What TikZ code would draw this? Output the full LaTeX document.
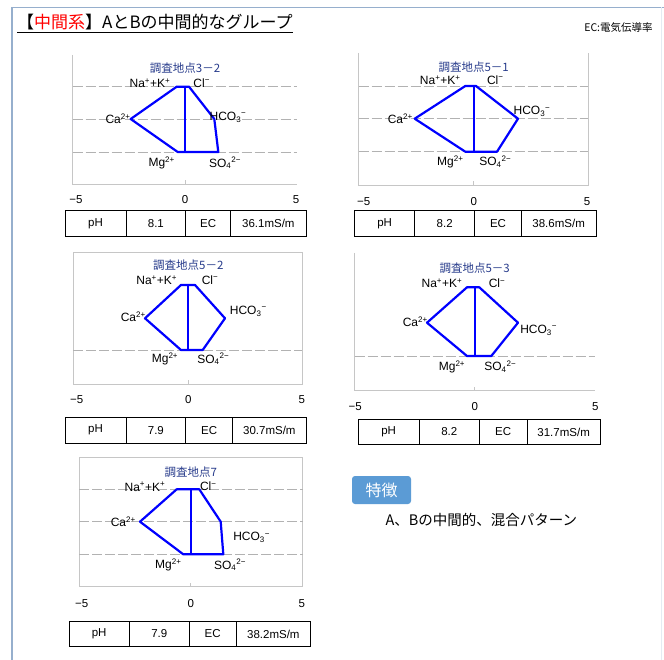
\documentclass[tikz,border=0pt]{standalone}
\usepackage{fontspec}
\setmainfont{Liberation Sans}
\newfontfamily\jp{Noto Sans CJK JP}
\usetikzlibrary{positioning}
\definecolor{framecol}{RGB}{150,175,205}
\definecolor{titlecol}{RGB}{40,60,140}
\definecolor{tagcol}{RGB}{91,155,213}

\begin{document}
\begin{tikzpicture}[x=1pt, y=-1pt,
    ion/.style={font=\fontsize{12}{12}\selectfont, inner sep=0pt},
    ttl/.style={font=\jp\fontsize{11.5}{11.5}\selectfont, text=titlecol, inner sep=0pt},
    num/.style={font=\fontsize{11.5}{11.5}\selectfont, inner sep=0pt},
    cell/.style={draw, line width=0.8pt, outer sep=0pt, inner sep=0pt, minimum height=25.5pt, font=\fontsize{11.5}{11.5}\selectfont},
    gridln/.style={gray!60, line width=0.7pt, dash pattern=on 10pt off 3pt},
    axisln/.style={gray!45, line width=0.8pt},
    stiff/.style={blue, line width=2.2pt, line join=round}]
    \useasboundingbox (0,0) rectangle (664,660);
    \fill[white] (0,0) rectangle (664,660);
    \draw[framecol, line width=1.2pt] (12,660) -- (12,7.5) -- (664,7.5);
    \draw[framecol!25] (661.5,7.5) -- (661.5,660);

    \node[font=\jp\fontsize{17}{17}\selectfont, inner sep=0pt, anchor=base west] (head) at (17,29) {【\textcolor{red}{中間系}】AとBの中間的なグループ};
    \draw[line width=1pt] ([yshift=-3.3pt]head.base west) -- ([yshift=-3.3pt]head.base east);
    \node[font=\jp\fontsize{10.5}{10.5}\selectfont, inner sep=0pt] (ecnote) at (618.5,28) {EC:電気伝導率};

    % 3-2
    \draw[axisln] (72.7,55) -- (72.7,184) -- (296.7,184);
    \foreach \y in {86.7,119,152} \draw[gridln] (72.7,\y) -- (296.7,\y);
    \draw[axisln] (185,184) -- (185,180);
    \coordinate (na1) at (176.7,86.7);
    \coordinate (cl1) at (189,86.7);
    \coordinate (hc1) at (214.3,119);
    \coordinate (so1) at (218.3,152);
    \coordinate (mg1) at (177.7,152);
    \coordinate (ca1) at (130.7,119);
    \coordinate (top1) at (185,86.7);
    \coordinate (bot1) at (185,152);
    \draw[stiff] (na1) -- (cl1) -- (hc1) -- (so1) -- (mg1) -- (ca1) -- cycle;
    \draw[stiff] (top1) -- (bot1);
    \node[ttl] (t1) at (185,68) {調査地点3－2};
    \node[ion] (lna1) at (150,83) {Na\textsuperscript{+}+K\textsuperscript{+}};
    \node[ion] (lcl1) at (201.7,83) {Cl\textsuperscript{−}};
    \node[ion] (lca1) at (118,119) {Ca\textsuperscript{2+}};
    \node[ion] (lhc1) at (228,117) {HCO\textsubscript{3}\textsuperscript{−}};
    \node[ion] (lmg1) at (161.7,163) {Mg\textsuperscript{2+}};
    \node[ion] (lso1) at (225,163) {SO\textsubscript{4}\textsuperscript{2−}};
    \node[num] (xl1) at (76,200) {−5};
    \node[num] (xm1) at (185,200) {0};
    \node[num] (xr1) at (296,200) {5};
    \node[cell, minimum width=61pt, anchor=west] (ph1) at (65,223.5) {pH};
    \node[cell, minimum width=59.7pt, right=0pt of ph1] (phv1) {8.1};
    \node[cell, minimum width=45pt, right=0pt of phv1] (ec1) {EC};
    \node[cell, minimum width=75.3pt, right=0pt of ec1] (ecv1) {36.1mS/m};

    % 5-1
    \draw[axisln] (358.7,53) -- (358.7,185) -- (588,185) -- (588,53);
    \foreach \y in {86,118.7,151.7} \draw[gridln] (358.7,\y) -- (588,\y);
    \draw[axisln] (473.7,185) -- (473.7,181);
    \coordinate (na2) at (465.3,86);
    \coordinate (cl2) at (476,86);
    \coordinate (hc2) at (518,118.7);
    \coordinate (so2) at (497,151.7);
    \coordinate (mg2) at (465.3,151.7);
    \coordinate (ca2) at (414.7,118.7);
    \coordinate (top2) at (473.7,86);
    \coordinate (bot2) at (473.7,151.7);
    \draw[stiff] (na2) -- (cl2) -- (hc2) -- (so2) -- (mg2) -- (ca2) -- cycle;
    \draw[stiff] (top2) -- (bot2);
    \node[ttl] (t2) at (473.7,66.7) {調査地点5－1};
    \node[ion] (lna2) at (440.3,80) {Na\textsuperscript{+}+K\textsuperscript{+}};
    \node[ion] (lcl2) at (495.3,80) {Cl\textsuperscript{−}};
    \node[ion] (lca2) at (400.3,119) {Ca\textsuperscript{2+}};
    \node[ion] (lhc2) at (532,111.7) {HCO\textsubscript{3}\textsuperscript{−}};
    \node[ion] (lmg2) at (450.3,161.7) {Mg\textsuperscript{2+}};
    \node[ion] (lso2) at (495.3,161.7) {SO\textsubscript{4}\textsuperscript{2−}};
    \node[num] (xl2) at (363.7,201.7) {−5};
    \node[num] (xm2) at (473.7,201.7) {0};
    \node[num] (xr2) at (587,201.7) {5};
    \node[cell, minimum width=60pt, anchor=west] (ph2) at (354.7,223.4) {pH};
    \node[cell, minimum width=60pt, right=0pt of ph2] (phv2) {8.2};
    \node[cell, minimum width=46.6pt, right=0pt of phv2] (ec2) {EC};
    \node[cell, minimum width=74.7pt, right=0pt of ec2] (ecv2) {38.6mS/m};

    % 5-2
    \draw[axisln] (73,252.7) rectangle (302,384);
    \draw[gridln] (73,350) -- (302,350);
    \draw[axisln] (188.3,384) -- (188.3,380);
    \coordinate (na3) at (181,285);
    \coordinate (cl3) at (195,285);
    \coordinate (hc3) at (225,318.3);
    \coordinate (so3) at (202.7,350);
    \coordinate (mg3) at (181,350);
    \coordinate (ca3) at (145,318.3);
    \coordinate (top3) at (188.3,285);
    \coordinate (bot3) at (188.3,350);
    \draw[stiff] (na3) -- (cl3) -- (hc3) -- (so3) -- (mg3) -- (ca3) -- cycle;
    \draw[stiff] (top3) -- (bot3);
    \node[ttl] (t3) at (188.3,265) {調査地点5－2};
    \node[ion] (lna3) at (156.7,280) {Na\textsuperscript{+}+K\textsuperscript{+}};
    \node[ion] (lcl3) at (210,280) {Cl\textsuperscript{−}};
    \node[ion] (lca3) at (133.3,316.7) {Ca\textsuperscript{2+}};
    \node[ion] (lhc3) at (248.3,311) {HCO\textsubscript{3}\textsuperscript{−}};
    \node[ion] (lmg3) at (165,359) {Mg\textsuperscript{2+}};
    \node[ion] (lso3) at (213.3,359) {SO\textsubscript{4}\textsuperscript{2−}};
    \node[num] (xl3) at (76.7,399.3) {−5};
    \node[num] (xm3) at (188.3,399.3) {0};
    \node[num] (xr3) at (301.7,399.3) {5};
    \node[cell, minimum width=61pt, anchor=west] (ph3) at (65,430.2) {pH};
    \node[cell, minimum width=59.7pt, right=0pt of ph3] (phv3) {7.9};
    \node[cell, minimum width=47pt, right=0pt of phv3] (ec3) {EC};
    \node[cell, minimum width=73.3pt, right=0pt of ec3] (ecv3) {30.7mS/m};

    % 5-3
    \draw[axisln] (354.7,253) -- (354.7,390.7) -- (595,390.7);
    \draw[gridln] (354.7,356.7) -- (595,356.7);
    \draw[axisln] (474.7,390.7) -- (474.7,386.7);
    \coordinate (na4) at (467,287.3);
    \coordinate (cl4) at (479.3,287.3);
    \coordinate (hc4) at (518,322.7);
    \coordinate (so4) at (491.3,356);
    \coordinate (mg4) at (467,356);
    \coordinate (ca4) at (427,322.7);
    \coordinate (top4) at (474.7,287.3);
    \coordinate (bot4) at (474.7,356);
    \draw[stiff] (na4) -- (cl4) -- (hc4) -- (so4) -- (mg4) -- (ca4) -- cycle;
    \draw[stiff] (top4) -- (bot4);
    \node[ttl] (t4) at (474.7,268.3) {調査地点5－3};
    \node[ion] (lna4) at (442,283.3) {Na\textsuperscript{+}+K\textsuperscript{+}};
    \node[ion] (lcl4) at (497,283.3) {Cl\textsuperscript{−}};
    \node[ion] (lca4) at (415.3,321.7) {Ca\textsuperscript{2+}};
    \node[ion] (lhc4) at (538.7,330) {HCO\textsubscript{3}\textsuperscript{−}};
    \node[ion] (lmg4) at (452,366.7) {Mg\textsuperscript{2+}};
    \node[ion] (lso4) at (500.3,366.7) {SO\textsubscript{4}\textsuperscript{2−}};
    \node[num] (xl4) at (355.3,406.7) {−5};
    \node[num] (xm4) at (474.7,406.7) {0};
    \node[num] (xr4) at (595.3,406.7) {5};
    \node[cell, minimum width=61.3pt, anchor=west] (ph4) at (358,432) {pH};
    \node[cell, minimum width=60pt, right=0pt of ph4] (phv4) {8.2};
    \node[cell, minimum width=47.7pt, right=0pt of phv4] (ec4) {EC};
    \node[cell, minimum width=73.3pt, right=0pt of ec4] (ecv4) {31.7mS/m};

    % 7
    \draw[axisln] (79,457) rectangle (302.7,586.7);
    \foreach \y in {489.3,521.7,554.3} \draw[gridln] (79,\y) -- (302.7,\y);
    \draw[axisln] (190.7,586.7) -- (190.7,582.7);
    \coordinate (na5) at (176.7,489.3);
    \coordinate (cl5) at (199.3,489.3);
    \coordinate (hc5) at (220.7,521.7);
    \coordinate (so5) at (223.3,554.3);
    \coordinate (mg5) at (183.3,554.3);
    \coordinate (ca5) at (140,521.7);
    \coordinate (top5) at (190.7,489.3);
    \coordinate (bot5) at (190.7,554.3);
    \draw[stiff] (na5) -- (cl5) -- (hc5) -- (so5) -- (mg5) -- (ca5) -- cycle;
    \draw[stiff] (top5) -- (bot5);
    \node[ttl] (t5) at (190.7,471.7) {調査地点7};
    \node[ion] (lna5) at (145,486.7) {Na\textsuperscript{+}+K\textsuperscript{+}};
    \node[ion] (lcl5) at (208.3,486.7) {Cl\textsuperscript{−}};
    \node[ion] (lca5) at (123.3,521.7) {Ca\textsuperscript{2+}};
    \node[ion] (lhc5) at (251.7,537.3) {HCO\textsubscript{3}\textsuperscript{−}};
    \node[ion] (lmg5) at (168.3,565) {Mg\textsuperscript{2+}};
    \node[ion] (lso5) at (230,565) {SO\textsubscript{4}\textsuperscript{2−}};
    \node[num] (xl5) at (81.7,603.3) {−5};
    \node[num] (xm5) at (190.7,603.3) {0};
    \node[num] (xr5) at (301.7,603.3) {5};
    \node[cell, minimum width=60.3pt, anchor=west] (ph5) at (69,633.9) {pH};
    \node[cell, minimum width=60pt, right=0pt of ph5] (phv5) {7.9};
    \node[cell, minimum width=46.7pt, right=0pt of phv5] (ec5) {EC};
    \node[cell, minimum width=74.7pt, right=0pt of ec5] (ecv5) {38.2mS/m};

    \node[fill=tagcol, rounded corners=3pt, minimum width=59pt, minimum height=28pt, text=white, font=\jp\fontsize{16}{16}\selectfont] (tag) at (381.5,490) {特徴};
    \node[font=\jp\fontsize{14.5}{14.5}\selectfont, inner sep=0pt, anchor=west] (feat) at (385.3,520) {A、Bの中間的、混合パターン};
\end{tikzpicture}
\end{document}
